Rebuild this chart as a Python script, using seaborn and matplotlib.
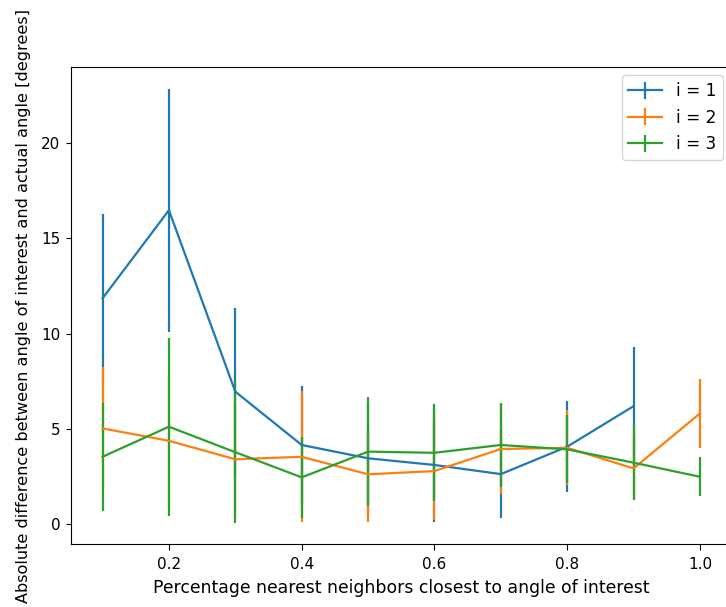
import matplotlib
matplotlib.use("Agg")
import matplotlib.pyplot as plt
import seaborn as sns
import numpy as np

x_blue = [0.1, 0.2, 0.3, 0.4, 0.5, 0.6, 0.7, 0.8, 0.9]
y_blue = [11.85, 16.48, 6.95, 4.15, 3.45, 3.10, 2.62, 4.06, 6.19]
e_blue = [4.45, 6.39, 4.37, 3.09, 2.90, 2.98, 2.32, 2.40, 3.12]

x_orange = [0.1, 0.2, 0.3, 0.4, 0.5, 0.6, 0.7, 0.8, 0.9, 1.0]
y_orange = [5.02, 4.37, 3.40, 3.53, 2.61, 2.78, 3.94, 4.00, 2.92, 5.81]
e_orange = [3.20, 3.50, 2.80, 3.45, 2.49, 2.57, 2.38, 1.97, 1.60, 1.80]

x_green = [0.1, 0.2, 0.3, 0.4, 0.5, 0.6, 0.7, 0.8, 0.9, 1.0]
y_green = [3.53, 5.11, 3.77, 2.45, 3.80, 3.74, 4.15, 3.92, 3.22, 2.48]
e_green = [2.83, 4.67, 3.70, 2.13, 2.85, 2.54, 2.19, 1.79, 1.98, 1.02]

labels = ["i = 1", "i = 2", "i = 3"]
xticks = [0.2, 0.4, 0.6, 0.8, 1.0]
yticks = [0, 5, 10, 15, 20]

palette = sns.color_palette("tab10", 3)
plt.rcParams['font.family'] = ['DejaVu Sans']
plt.rcParams['font.size'] = 11.0

fig = plt.figure(figsize=(7.26, 6.07), dpi=100)
ax = fig.add_axes([0.0978, 0.1038, 0.9098, 0.7858])

series = [(x_blue, y_blue, e_blue), (x_orange, y_orange, e_orange), (x_green, y_green, e_green)]
for (xs, ys, es), lab, col in zip(series, labels, palette):
    ax.errorbar(xs, ys, yerr=es, color=col, label=lab, linewidth=1.6, elinewidth=1.6)

ax.set_xlim(0.0525, 1.0475)
ax.set_ylim(-1.05, 24.0)
ax.set_xticks(xticks)
ax.set_yticks(yticks)
ax.tick_params(axis='x', length=4.0, pad=5.3, labelsize=11.0)
ax.tick_params(axis='y', length=3.8, pad=4.0, labelsize=11.0)
ax.set_xlabel("Percentage nearest neighbors closest to angle of interest", fontsize=12.4, labelpad=5)
ax.set_ylabel("Absolute difference between angle of interest and actual angle [degrees]", fontsize=11.65, labelpad=7)
ax.legend(loc="upper right", fontsize=12.2)
fig.savefig("out.png", dpi=100)
